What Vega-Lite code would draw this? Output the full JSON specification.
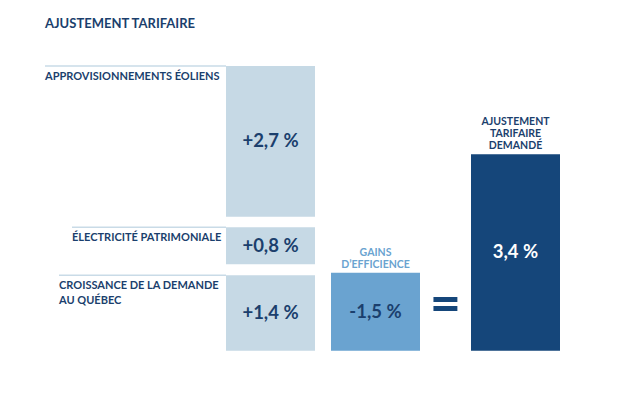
{
  "$schema": "https://vega.github.io/schema/vega-lite/v6.json",
  "width": 617,
  "height": 364,
  "autosize": "none",
  "padding": {"left": 0, "right": 0, "top": 40, "bottom": 0},
  "background": "white",
  "config": {"view": {"stroke": null}, "font": "Lato"},
  "title": {"text": "AJUSTEMENT TARIFAIRE", "anchor": "start", "frame": "group", "dx": 45, "dy": 13, "offset": 12, "baseline": "alphabetic", "font": "Lato", "fontSize": 13, "fontWeight": "bold", "color": "#1b3f6d"},
  "data": {"values": [
    {"id": "croissance", "cat": "stack", "kind": "hausse", "start": 0, "end": 1.304, "pct": "+1,4 %", "label": ["CROISSANCE DE LA DEMANDE", "AU QUÉBEC"]},
    {"id": "patrimoniale", "cat": "stack", "kind": "hausse", "start": 1.495, "end": 2.135, "pct": "+0,8 %", "label": ["ÉLECTRICITÉ PATRIMONIALE"]},
    {"id": "eoliens", "cat": "stack", "kind": "hausse", "start": 2.318, "end": 4.926, "pct": "+2,7 %", "label": ["APPROVISIONNEMENTS ÉOLIENS"]},
    {"id": "gains", "cat": "gains", "kind": "baisse", "start": 0, "end": 1.349, "pct": "-1,5 %", "label": ["GAINS", "D’EFFICIENCE"]},
    {"id": "total", "cat": "final", "kind": "total", "start": 0, "end": 3.4, "pct": "3,4 %", "label": ["AJUSTEMENT", "TARIFAIRE", "DEMANDÉ"]}
  ]},
  "layer": [
    {
      "mark": {"type": "bar", "width": 89},
      "encoding": {
        "x": {"field": "cat", "type": "nominal", "bandPosition": 0.5, "scale": {"domain": ["stack", "s1", "s2", "gains", "s3", "eq", "s4", "final"], "range": [253, 533], "paddingInner": 0, "paddingOuter": 0}, "axis": null},
        "y": {"field": "start", "type": "quantitative", "scale": {"domain": [-0.922, 5.375], "nice": false, "zero": false}, "axis": null},
        "y2": {"field": "end"},
        "color": {"field": "kind", "type": "nominal", "scale": {"domain": ["hausse", "baisse", "total"], "range": ["#c6d9e5", "#6aa3d0", "#15467a"]}, "legend": null}
      }
    },
    {
      "transform": [
        {"fold": ["start", "end"], "as": ["k", "v"]},
        {"aggregate": [{"op": "mean", "field": "v", "as": "mid"}], "groupby": ["id", "cat", "pct"]}
      ],
      "mark": {"type": "text", "font": "Lato", "fontWeight": "bold", "fontSize": 18.5, "baseline": "middle", "align": "center"},
      "encoding": {
        "x": {"field": "cat", "type": "nominal", "bandPosition": 0.5},
        "y": {"field": "mid", "type": "quantitative"},
        "text": {"field": "pct"},
        "color": {"condition": {"test": "datum.id === 'total'", "value": "#ffffff"}, "value": "#1b3f6d"}
      }
    },
    {
      "transform": [{"filter": "datum.id === 'eoliens'"}],
      "mark": {"type": "rule", "color": "#c9dbe7", "strokeWidth": 1.5, "xOffset": -225.5, "x2Offset": -44.5},
      "encoding": {
        "x": {"field": "cat", "type": "nominal", "bandPosition": 0.5},
        "x2": {"field": "cat", "bandPosition": 0.5},
        "y": {"field": "end", "type": "quantitative"}
      }
    },
    {
      "transform": [{"filter": "datum.id === 'patrimoniale'"}],
      "mark": {"type": "rule", "color": "#c9dbe7", "strokeWidth": 1.5, "xOffset": -198.5, "x2Offset": -44.5},
      "encoding": {
        "x": {"field": "cat", "type": "nominal", "bandPosition": 0.5},
        "x2": {"field": "cat", "bandPosition": 0.5},
        "y": {"field": "end", "type": "quantitative"}
      }
    },
    {
      "transform": [{"filter": "datum.id === 'croissance'"}],
      "mark": {"type": "rule", "color": "#c9dbe7", "strokeWidth": 1.5, "xOffset": -211.5, "x2Offset": -44.5},
      "encoding": {
        "x": {"field": "cat", "type": "nominal", "bandPosition": 0.5},
        "x2": {"field": "cat", "bandPosition": 0.5},
        "y": {"field": "end", "type": "quantitative"}
      }
    },
    {
      "transform": [{"filter": "datum.id === 'eoliens'"}],
      "mark": {"type": "text", "align": "left", "baseline": "top", "font": "Lato", "fontWeight": "bold", "fontSize": 11, "color": "#1b3f6d", "xOffset": -225.5, "yOffset": 5},
      "encoding": {
        "x": {"field": "cat", "type": "nominal", "bandPosition": 0.5},
        "y": {"field": "end", "type": "quantitative"},
        "text": {"field": "label"}
      }
    },
    {
      "transform": [{"filter": "datum.id === 'patrimoniale'"}],
      "mark": {"type": "text", "align": "left", "baseline": "top", "font": "Lato", "fontWeight": "bold", "fontSize": 11, "color": "#1b3f6d", "xOffset": -198.5, "yOffset": 5},
      "encoding": {
        "x": {"field": "cat", "type": "nominal", "bandPosition": 0.5},
        "y": {"field": "end", "type": "quantitative"},
        "text": {"field": "label"}
      }
    },
    {
      "transform": [{"filter": "datum.id === 'croissance'"}],
      "mark": {"type": "text", "align": "left", "baseline": "top", "font": "Lato", "fontWeight": "bold", "fontSize": 11, "lineHeight": 15, "color": "#1b3f6d", "xOffset": -211.5, "yOffset": 5},
      "encoding": {
        "x": {"field": "cat", "type": "nominal", "bandPosition": 0.5},
        "y": {"field": "end", "type": "quantitative"},
        "text": {"field": "label"}
      }
    },
    {
      "transform": [{"filter": "datum.id === 'gains'"}],
      "mark": {"type": "text", "align": "center", "baseline": "alphabetic", "font": "Lato", "fontWeight": "bold", "fontSize": 10.5, "lineHeight": 12, "color": "#6aa3d0", "yOffset": -16.5},
      "encoding": {
        "x": {"field": "cat", "type": "nominal", "bandPosition": 0.5},
        "y": {"field": "end", "type": "quantitative"},
        "text": {"field": "label"}
      }
    },
    {
      "transform": [{"filter": "datum.id === 'total'"}],
      "mark": {"type": "text", "align": "center", "baseline": "alphabetic", "font": "Lato", "fontWeight": "bold", "fontSize": 10.5, "lineHeight": 12, "color": "#1b3f6d", "yOffset": -29},
      "encoding": {
        "x": {"field": "cat", "type": "nominal", "bandPosition": 0.5},
        "y": {"field": "end", "type": "quantitative"},
        "text": {"field": "label"}
      }
    },
    {
      "transform": [{"filter": "datum.id === 'gains'"}],
      "mark": {"type": "text", "align": "center", "baseline": "middle", "font": "Lato", "fontWeight": "bold", "fontSize": 54, "color": "#15467a", "yOffset": 33},
      "encoding": {
        "x": {"datum": "eq", "type": "nominal", "bandPosition": 0.5},
        "y": {"field": "end", "type": "quantitative"},
        "text": {"value": "="}
      }
    }
  ]
}
